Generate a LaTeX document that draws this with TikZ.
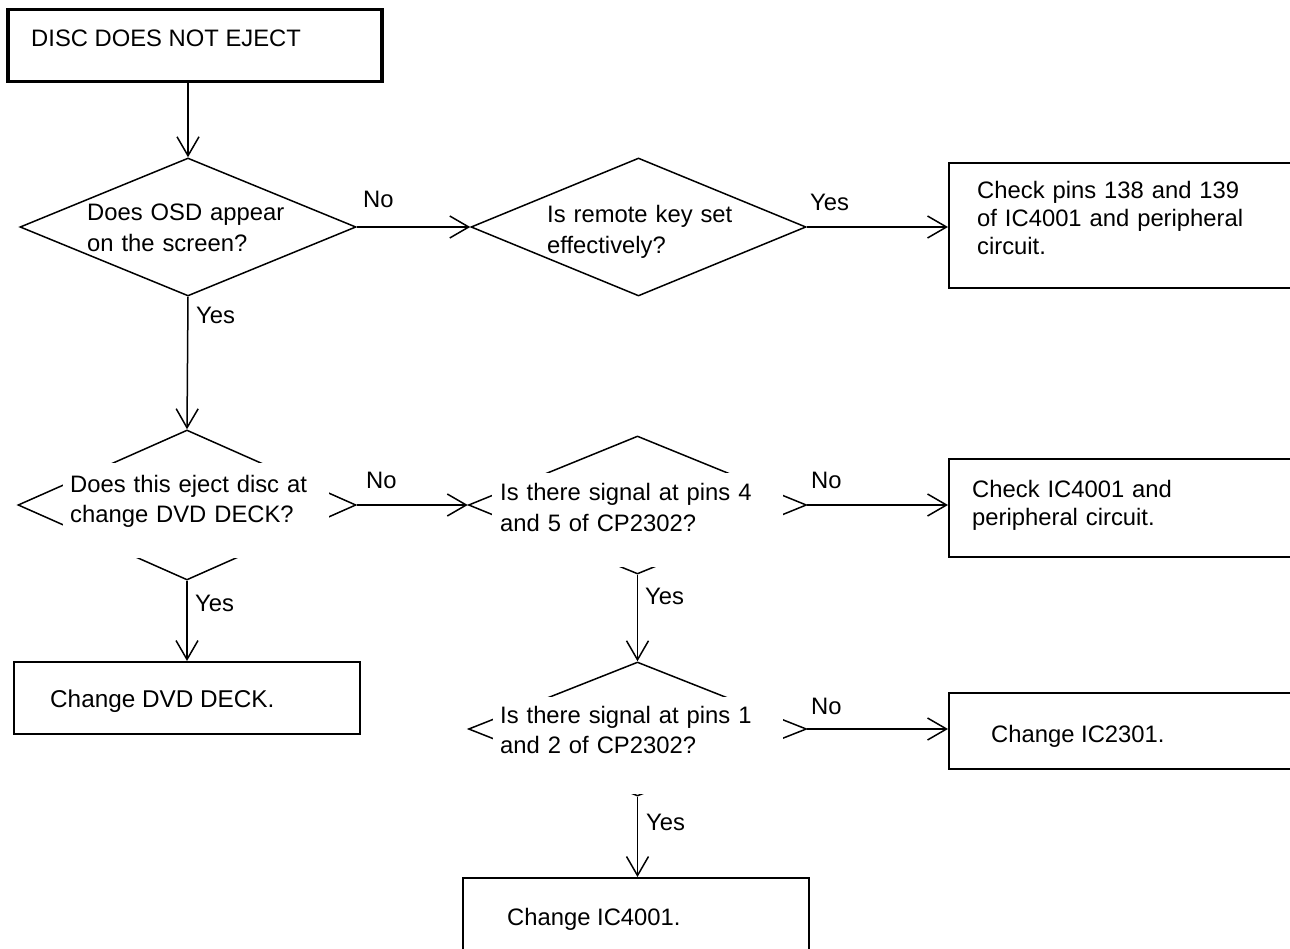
\documentclass[tikz,border=0pt]{standalone}
\usepackage{fontspec}
\setmainfont{Liberation Sans}
\usetikzlibrary{shapes.geometric,arrows.meta}
\begin{document}
\begin{tikzpicture}[x=1pt,y=-1pt,
  conn/.style={line width=1.5pt,-{Straight Barb[length=19pt,width=22pt,line width=1.5pt]}},
  dia/.style={diamond,draw,line width=1.5pt,inner sep=0pt,minimum width=#1,minimum height=138pt},
  dia/.default=338pt,
  box/.style={rectangle,draw,line width=1.8pt,inner sep=0pt,anchor=north west},
  cover/.style={fill=white,draw=none},
  txt/.style={inner sep=0pt,anchor=base west,font=\fontsize{23.8}{31}\selectfont},
  mtxt/.style={txt,text width=330pt,align=left,font=\fontsize{23.8}{#1}\selectfont},
  lbl/.style={txt}
]
\useasboundingbox (0,0) rectangle (1290,949);
\clip (0,0) rectangle (1290,949);

% boxes
\node[box,line width=3.5pt,minimum width=374pt,minimum height=72pt] (start) at (6,8) {};
\node[box,minimum width=360pt,minimum height=125pt] (r1) at (948,162) {};
\node[box,minimum width=360pt,minimum height=98pt] (r2) at (948,458) {};
\node[box,minimum width=360pt,minimum height=76pt] (r3) at (948,692) {};
\node[box,minimum width=346pt,minimum height=72pt] (dvd) at (13,661) {};
\node[box,minimum width=346pt,minimum height=100pt] (ic) at (462,877) {};

% diamonds
\node[dia=336pt] (d1) at (188,227) {};
\node[dia=335pt] (d2) at (638.5,227) {};
\node[dia,minimum height=150pt] (d3) at (187,505) {};
\node[dia] (d4) at (637.5,505) {};
\node[dia,minimum height=134pt] (d5) at (637.5,729) {};

% white text areas hiding parts of the diamonds
\fill[cover] (63,463) rectangle (329,558);
\fill[cover] (492,473) rectangle (783,567);
\fill[cover] (493,697) rectangle (783,794);

% connectors
\draw[conn] (start.south -| d1.north) -- (d1.north);
\draw[conn] (d1.east) -- (d2.west);
\draw[conn] (d2.east) -- (d2.east -| r1.west);
\draw[conn] (d1.south) -- (d3.north);
\draw[conn] (d3.east) -- (d4.west);
\draw[conn] (d4.east) -- (d4.east -| r2.west);
\draw[conn] (d3.south) -- (d3.south |- dvd.north);
\draw[conn] (d4.south) -- (d5.north);
\draw[conn] (d5.east) -- (d5.east -| r3.west);
\draw[conn] (d5.south) -- (d5.south |- ic.north);

% texts
\node[txt] (t0) at (31,47) {DISC DOES NOT EJECT};
\node[mtxt=31] (tA) at (87,221) {Does OSD appear\\on the screen?};
\node[mtxt=31] (tB) at (547,223) {Is remote key set\\effectively?};
\node[mtxt=28] (tC) at (977,199) {Check pins 138 and 139\\of IC4001 and peripheral\\circuit.};
\node[mtxt=30] (tD) at (70,492) {Does this eject disc at\\change DVD DECK?};
\node[mtxt=31] (tE) at (500,500) {Is there signal at pins 4\\and 5 of CP2302?};
\node[mtxt=28] (tF) at (972,497) {Check IC4001 and\\peripheral circuit.};
\node[mtxt=30.5] (tG) at (500,723) {Is there signal at pins 1\\and 2 of CP2302?};
\node[txt] (tH) at (991,742) {Change IC2301.};
\node[txt,font=\fontsize{24.3}{31}\selectfont] (tI) at (50,707) {Change DVD DECK.};
\node[txt] (tJ) at (507,925) {Change IC4001.};

% labels
\node[lbl] (l1) at (363,208) {No};
\node[lbl] (l2) at (810,211) {Yes};
\node[lbl] (l3) at (196,324) {Yes};
\node[lbl] (l4) at (366,488) {No};
\node[lbl] (l5) at (811,488) {No};
\node[lbl] (l6) at (195,611) {Yes};
\node[lbl] (l7) at (645,604) {Yes};
\node[lbl] (l8) at (811,714) {No};
\node[lbl] (l9) at (646,830) {Yes};
\end{tikzpicture}
\end{document}
